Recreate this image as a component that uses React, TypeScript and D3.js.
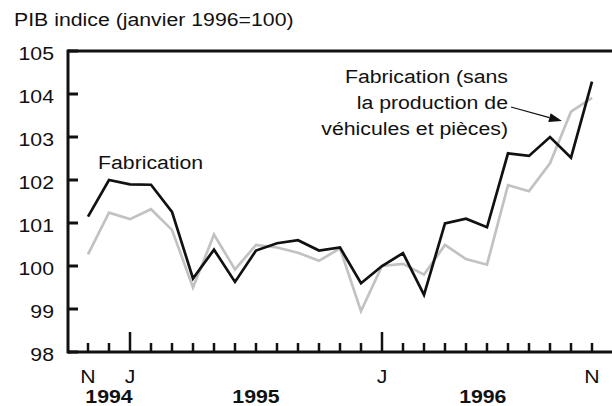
import * as d3 from "d3";

// mois de nov. 1994 à nov. 1996
const periods = [
  "1994-11", "1994-12",
  "1995-01", "1995-02", "1995-03", "1995-04", "1995-05", "1995-06",
  "1995-07", "1995-08", "1995-09", "1995-10", "1995-11", "1995-12",
  "1996-01", "1996-02", "1996-03", "1996-04", "1996-05", "1996-06",
  "1996-07", "1996-08", "1996-09", "1996-10", "1996-11",
];

// Fabrication
const fabrication = [
  101.15, 102.0, 101.9, 101.89, 101.26, 99.71, 100.38, 99.63, 100.36,
  100.53, 100.6, 100.36, 100.43, 99.6, 100.0, 100.3, 99.33, 100.99,
  101.1, 100.9, 102.62, 102.56, 103.0, 102.52, 104.29,
];

// Fabrication (sans la production de véhicules et pièces)
const fabricationSansVehicules = [
  100.27, 101.24, 101.09, 101.32, 100.84, 99.5, 100.73, 99.92, 100.49,
  100.43, 100.31, 100.12, 100.41, 98.95, 100.0, 100.05, 99.8, 100.49,
  100.16, 100.03, 101.88, 101.74, 102.39, 103.59, 103.91,
];

const yTicks = [98, 99, 100, 101, 102, 103, 104, 105];
const monthLabelPeriods = ["1994-11", "1995-01", "1996-01", "1996-11"];
const monthLabels = ["N", "J", "J", "N"];
const yearLabels = ["1994", "1995", "1996"];
const title = "PIB indice (janvier 1996=100)";
const fabLabel = "Fabrication";
const sansLabel = ["Fabrication (sans", "la production de", "véhicules et pièces)"];

const W = 612;
const H = 406;
const left = 68;
const top = 51;
const bottom = 352;
const FONT = "'Liberation Sans', Arial, Helvetica, sans-serif";
const SX = 1.12; // le texte d'origine est un peu étiré

const Label = ({ x, y, anchor = "start", size = 19, bold = false, children }: any) => (
  <text
    transform={`translate(${x},${y}) scale(${SX},1)`}
    textAnchor={anchor}
    fontFamily={FONT}
    fontSize={size}
    fontWeight={bold ? "bold" : "normal"}
    fill="#111"
  >
    {children}
  </text>
);

export default function App() {
  const x = d3.scalePoint<string>().domain(periods).range([88, 592]);
  const y = d3.scaleLinear().domain([98, 105]).range([bottom, top]);
  const step = x.step();

  const line = d3
    .line<number>()
    .x((_, i) => x(periods[i])!)
    .y((d) => y(d));

  // position des années sous l'axe
  const yearX = [
    x("1994-12")!,
    x("1995-07")!,
    x("1996-05")! + 0.8 * step,
  ];

  const arrowFrom: [number, number] = [511, 107];
  const arrowTo: [number, number] = [562, 121];
  const ang = Math.atan2(arrowTo[1] - arrowFrom[1], arrowTo[0] - arrowFrom[0]);
  const headLen = 13;
  const headW = 4.5;
  const bx = arrowTo[0] - headLen * Math.cos(ang);
  const by = arrowTo[1] - headLen * Math.sin(ang);
  const head = [
    [arrowTo[0], arrowTo[1]],
    [bx + headW * Math.sin(ang), by - headW * Math.cos(ang)],
    [bx - headW * Math.sin(ang), by + headW * Math.cos(ang)],
  ]
    .map((p) => p.join(","))
    .join(" ");

  return (
    <svg
      width={W}
      height={H}
      style={{ position: "absolute", left: 0, top: 0, background: "#fff" }}
    >
      <Label x={14} y={26} size={19}>{title}</Label>

      {/* graduations Y */}
      {yTicks.map((t) => (
        <g key={t}>
          <line x1={left} x2={left + 10} y1={y(t)} y2={y(t)} stroke="#111" strokeWidth={3} />
          <Label x={54} y={y(t) + 8.5} anchor="end" size={19}>{t}</Label>
        </g>
      ))}

      {/* graduations mensuelles */}
      {periods.map((p) => (
        <line
          key={p}
          x1={x(p)}
          x2={x(p)}
          y1={bottom}
          y2={p.endsWith("-01") ? bottom - 20 : bottom - 9}
          stroke="#111"
          strokeWidth={2.5}
        />
      ))}

      {/* cadre */}
      <line x1={left} x2={W} y1={top} y2={top} stroke="#111" strokeWidth={3} />
      <line x1={left} x2={W} y1={bottom} y2={bottom} stroke="#111" strokeWidth={3} />
      <line x1={left} x2={left} y1={top - 1.5} y2={bottom + 1.5} stroke="#111" strokeWidth={3} />

      {monthLabelPeriods.map((p, i) => (
        <Label key={p} x={x(p)} y={383} anchor="middle">{monthLabels[i]}</Label>
      ))}
      {yearLabels.map((lab, i) => (
        <Label key={lab} x={yearX[i]} y={403} anchor="middle" bold size={19}>{lab}</Label>
      ))}

      <path
        d={line(fabricationSansVehicules)!}
        fill="none"
        stroke="#c2c2c2"
        strokeWidth={2.7}
        strokeLinejoin="miter"
      />
      <path
        d={line(fabrication)!}
        fill="none"
        stroke="#111"
        strokeWidth={2.7}
        strokeLinejoin="miter"
      />

      <Label x={98} y={169}>{fabLabel}</Label>
      {sansLabel.map((l, i) => (
        <Label key={l} x={508} y={83 + i * 26} anchor="end">{l}</Label>
      ))}
      <line
        x1={arrowFrom[0]}
        y1={arrowFrom[1]}
        x2={bx}
        y2={by}
        stroke="#111"
        strokeWidth={1.2}
      />
      <polygon points={head} fill="#111" />
    </svg>
  );
}
